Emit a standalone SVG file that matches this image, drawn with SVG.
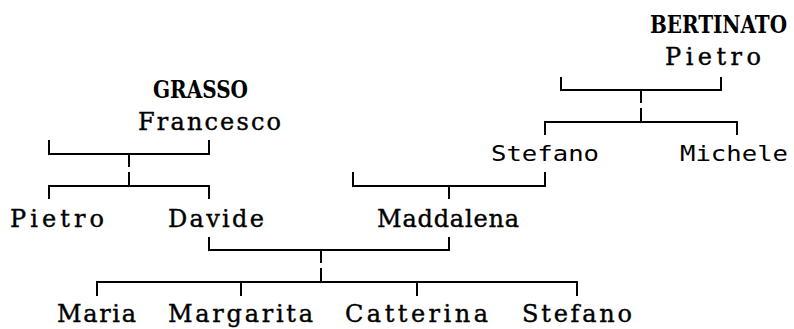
<svg xmlns="http://www.w3.org/2000/svg" width="794" height="329" viewBox="0 0 794 329">
<style>
.n{font-family:"DejaVu Serif","Liberation Serif",serif;font-size:24px;fill:#000;stroke:#000;stroke-width:0.4}
.s{font-family:"DejaVu Sans Mono","Liberation Mono",monospace;font-size:21px;fill:#000}
.b{font-family:"DejaVu Serif Condensed","DejaVu Serif","Liberation Serif",serif;font-stretch:condensed;font-size:20px;font-weight:bold;fill:#000}
.c{fill:none;stroke:#000;stroke-width:2;stroke-linecap:butt}
</style>
<rect width="794" height="329" fill="#fff"/>
<g id="connectors">
<path class="c" d="M49,140V154H209V140M129,154V167M129,172V186M49,199V186H209V199"/>
<path class="c" d="M561,77V90H721V77M641,90V103M641,108V122M545,135V122H737V135"/>
<path class="c" d="M353,172V186H545V172M449,186V199"/>
<path class="c" d="M209,237V250H449V237M321,250V263M321,268V282M97,296V282H577V296M241,282V296M417,282V296"/>
</g>
<g id="grasso-francesco">
<text class="b" transform="translate(153,98) scale(1,1.2)" x="0" y="0" textLength="95" lengthAdjust="spacingAndGlyphs">GRASSO</text>
<text class="n" x="138" y="130" textLength="143" lengthAdjust="spacing">Francesco</text>
</g>
<g id="bertinato-pietro">
<text class="b" transform="translate(650,33) scale(1,1.2)" x="0" y="0" textLength="137" lengthAdjust="spacingAndGlyphs">BERTINATO</text>
<text class="n" x="665" y="65" textLength="96" lengthAdjust="spacing">Pietro</text>
</g>
<g id="stefano-b"><text class="s" x="491" y="161" textLength="108" lengthAdjust="spacingAndGlyphs">Stefano</text></g>
<g id="michele"><text class="s" x="680" y="161" textLength="108" lengthAdjust="spacingAndGlyphs">Michele</text></g>
<g id="pietro-g"><text class="n" x="10" y="227" textLength="94" lengthAdjust="spacing">Pietro</text></g>
<g id="davide"><text class="n" x="168" y="227" textLength="96" lengthAdjust="spacing">Davide</text></g>
<g id="maddalena"><text class="n" x="377" y="227" textLength="142" lengthAdjust="spacing">Maddalena</text></g>
<g id="maria"><text class="n" x="57" y="322" textLength="79" lengthAdjust="spacing">Maria</text></g>
<g id="margarita"><text class="n" x="168" y="322" textLength="145" lengthAdjust="spacing">Margarita</text></g>
<g id="catterina"><text class="n" x="345" y="322" textLength="143" lengthAdjust="spacing">Catterina</text></g>
<g id="stefano-g"><text class="n" x="522" y="322" textLength="110" lengthAdjust="spacing">Stefano</text></g>
</svg>
